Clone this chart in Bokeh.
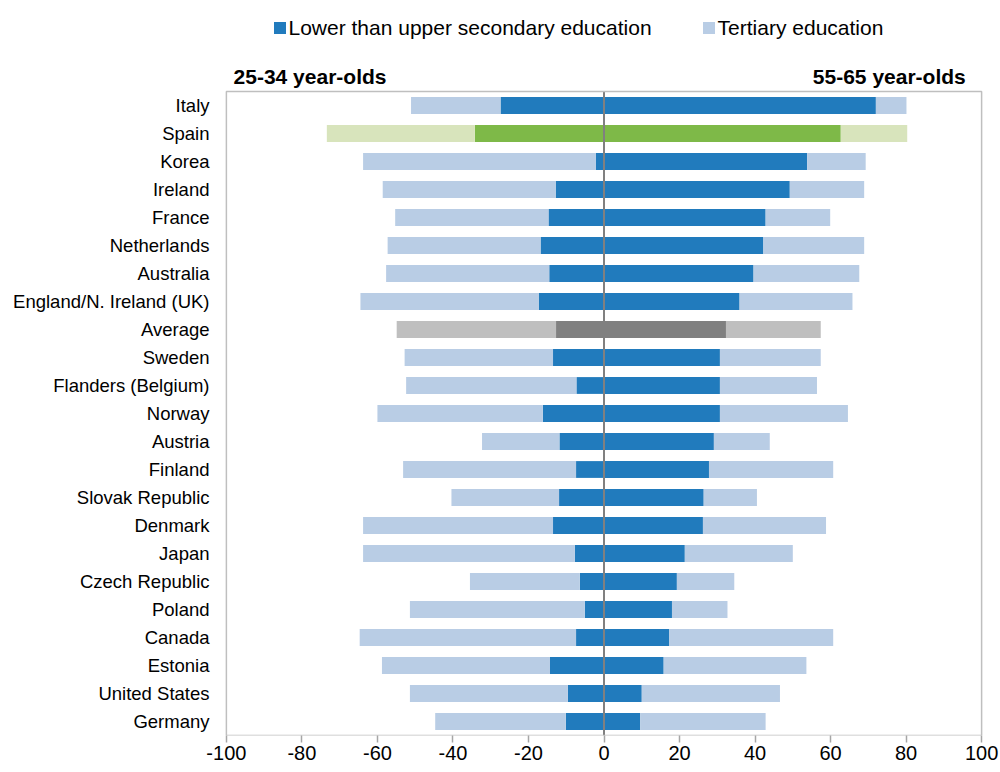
from bokeh.plotting import figure
from bokeh.models import (ColumnDataSource, FixedTicker, Legend, LegendItem,
                          Label, Range1d)
from bokeh.embed import file_html
from bokeh.resources import INLINE

# ---------------- data ----------------
countries = ["Italy", "Spain", "Korea", "Ireland", "France", "Netherlands",
             "Australia", "England/N. Ireland (UK)", "Average", "Sweden",
             "Flanders (Belgium)", "Norway", "Austria", "Finland",
             "Slovak Republic", "Denmark", "Japan", "Czech Republic", "Poland",
             "Canada", "Estonia", "United States", "Germany"]

# 25-34 year-olds (%)
young_lower = [27.4, 34.2, 2.2, 12.8, 14.7, 16.8, 14.5, 17.3, 12.7, 13.5, 7.3,
               16.2, 11.8, 7.4, 11.9, 13.5, 7.7, 6.4, 5.1, 7.4, 14.3, 9.6, 10.1]
young_tertiary = [23.7, 39.2, 61.6, 45.8, 40.6, 40.5, 43.2, 47.2, 42.2, 39.3,
                  45.1, 43.8, 20.5, 45.8, 28.5, 50.3, 56.1, 29.1, 46.3, 57.3,
                  44.5, 41.8, 34.6]

# 55-65 year-olds (%)
old_lower = [72.0, 62.7, 53.8, 49.2, 42.8, 42.2, 39.6, 35.9, 32.3, 30.7, 30.7,
             30.7, 29.1, 27.8, 26.4, 26.2, 21.4, 19.3, 18.0, 17.3, 15.8, 10.0, 9.6]
old_tertiary = [8.1, 17.6, 15.5, 19.7, 17.1, 26.7, 28.0, 29.9, 25.1, 26.7, 25.7,
                33.9, 14.8, 32.9, 14.1, 32.6, 28.6, 15.2, 14.7, 43.4, 37.8, 36.6,
                33.2]

x_ticks = [-100, -80, -60, -40, -20, 0, 20, 40, 60, 80, 100]

# ---------------- colours ----------------
DARK = "#217BBD"
LIGHT = "#B9CDE5"
special_dark = {"Spain": "#7EB948", "Average": "#808080"}
special_light = {"Spain": "#D8E4BC", "Average": "#BFBFBF"}

n = len(countries)
ypos = [n - 1 - i for i in range(n)]          # Italy on top
dark_cols = [special_dark.get(c, DARK) for c in countries]
light_cols = [special_light.get(c, LIGHT) for c in countries]

src = ColumnDataSource(dict(
    y=ypos,
    country=countries,
    yl_left=[-v for v in young_lower],
    yt_left=[-(a + b) for a, b in zip(young_lower, young_tertiary)],
    yt_right=[-v for v in young_lower],
    zero=[0] * n,
    ol_right=old_lower,
    ot_right=[a + b for a, b in zip(old_lower, old_tertiary)],
    dark=dark_cols,
    light=light_cols,
))

FONT = "Liberation Sans"
BOX_TOP = n - 0.5

p = figure(width=1000, height=772, output_backend="svg",
           toolbar_location=None,
           x_range=Range1d(-100.5, 100.5), y_range=Range1d(-0.5, 25.75),
           min_border_left=224, min_border_right=17, min_border_top=0,
           min_border_bottom=37)

H = 0.6
r_dark_y = p.hbar(y="y", left="yl_left", right="zero", height=H,
                  fill_color="dark", line_color=None, source=src)
r_light_y = p.hbar(y="y", left="yt_left", right="yt_right", height=H,
                   fill_color="light", line_color=None, source=src)
p.hbar(y="y", left="zero", right="ol_right", height=H,
       fill_color="dark", line_color=None, source=src)
p.hbar(y="y", left="ol_right", right="ot_right", height=H,
       fill_color="light", line_color=None, source=src)

# zero line (only inside the plot box)
p.segment(x0=[0], y0=[-0.5], x1=[0], y1=[BOX_TOP], line_color="#808080",
          line_width=2)

# plot box
p.quad(left=[x_ticks[0]], right=[x_ticks[-1]], bottom=[-0.5], top=[BOX_TOP],
       fill_color=None, line_color="#BFBFBF", line_width=1.5)

# axes
p.xgrid.visible = False
p.ygrid.visible = False
p.outline_line_color = None
p.background_fill_color = "white"
p.border_fill_color = "white"

p.xaxis.ticker = FixedTicker(ticks=x_ticks)
p.xaxis.major_label_overrides = {t: str(t) for t in x_ticks}
p.xaxis.axis_line_color = None
p.xaxis.major_tick_line_color = "#A6A6A6"
p.xaxis.major_tick_line_width = 1.5
p.xaxis.major_tick_in = 0
p.xaxis.major_tick_out = 7
p.xaxis.minor_tick_line_color = None
p.xaxis.major_label_standoff = 3
p.xaxis.major_label_text_font = FONT
p.xaxis.major_label_text_font_size = "20px"
p.xaxis.major_label_text_color = "black"

p.yaxis.ticker = FixedTicker(ticks=ypos)
p.yaxis.major_label_overrides = {y: c for y, c in zip(ypos, countries)}
p.yaxis.axis_line_color = None
p.yaxis.major_tick_line_color = None
p.yaxis.minor_tick_line_color = None
p.yaxis.major_tick_out = 0
p.yaxis.major_tick_in = 0
p.yaxis.major_label_standoff = 15
p.yaxis.major_label_text_font = FONT
p.yaxis.major_label_text_font_size = "18.5px"
p.yaxis.major_label_text_color = "black"

# header labels
p.add_layout(Label(x=-98.1, y=23.03, text="25-34 year-olds", text_font=FONT,
                   text_font_size="21px", text_font_style="bold",
                   text_color="black",
                   text_baseline="alphabetic", text_align="left"))
p.add_layout(Label(x=95.8, y=23.03, text="55-65 year-olds", text_font=FONT,
                   text_font_size="21px", text_font_style="bold",
                   text_color="black",
                   text_baseline="alphabetic", text_align="right"))

legend = Legend(items=[
    LegendItem(label="Lower than upper secondary education",
               renderers=[r_dark_y], index=0),
    LegendItem(label="Tertiary education", renderers=[r_light_y], index=0),
], orientation="horizontal", location=(47.5, 695.5), padding=0, margin=0,
    spacing=49, glyph_width=15, glyph_height=15, label_standoff=2,
    label_text_font=FONT, label_text_font_size="21px",
    label_text_color="black", border_line_color=None,
    background_fill_alpha=0)
p.add_layout(legend, "center")

open("out.html", "w").write(file_html(p, INLINE))
